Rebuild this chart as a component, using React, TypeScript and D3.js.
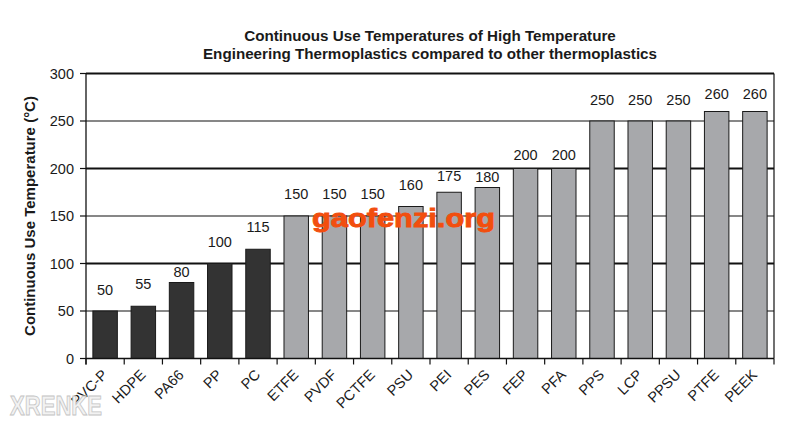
import React from "react";
import * as d3 from "d3";

const categories = ["PVC-P","HDPE","PA66","PP","PC","ETFE","PVDF","PCTFE","PSU","PEI","PES","FEP","PFA","PPS","LCP","PPSU","PTFE","PEEK"];
const values = [50,55,80,100,115,150,150,150,160,175,180,200,200,250,250,250,260,260];
const groups = ["other","other","other","other","other","high","high","high","high","high","high","high","high","high","high","high","high","high"];
const yTicks = [0,50,100,150,200,250,300];
const titleLines = ["Continuous Use Temperatures of High Temperature","Engineering Thermoplastics compared to other thermoplastics"];
const yLabel = "Continuous Use Temperature (°C)";

// layout: vertical gap (px) between each value label baseline and its bar top, as in the original
const labelGaps = [16,17,6,17,17,17,17,17,17,11,6,9,9,16,16,16,13,13];

const W = 795, H = 424;
const L = 86, R = 774, T = 73.5, B = 358.5;

export default function App() {
  const x = d3.scaleBand<string>().domain(categories).range([L, R]).paddingInner(0.36).paddingOuter(0.18);
  const y = d3.scaleLinear().domain([0, 300]).range([B, T]);
  const font = "Arial, 'Liberation Sans', Helvetica, sans-serif";
  const boundaries = d3.range(categories.length + 1).map(i => L + i * (R - L) / categories.length);
  return (
    <svg width={W} height={H} style={{ position: "absolute", left: 0, top: 0, background: "#fff" }} fontFamily={font}>
      <rect x={0} y={0} width={W} height={H} fill="#fff" />
      {titleLines.map((t, i) => (
        <text key={i} x={430} y={41 + i * 17.5} textAnchor="middle" fontSize={15.2} fontWeight="bold" fill="#1a1a1a">{t}</text>
      ))}
      {yTicks.filter(v => v > 0).map(v => (
        <line key={v} x1={L} x2={R} y1={y(v)} y2={y(v)} stroke="#111" strokeWidth={v === 100 || v === 200 || v === 300 ? 1.8 : 1.1} />
      ))}
      <line x1={R} x2={R} y1={T} y2={B} stroke="#111" strokeWidth={1.2} />
      {categories.map((c, i) => (
        <rect key={c} x={x(c)} y={y(values[i])} width={x.bandwidth()} height={B - y(values[i])}
          fill={groups[i] === "other" ? "#333333" : "#a7a8ab"} stroke="#1a1a1a" strokeWidth={1} />
      ))}
      {categories.map((c, i) => (
        <text key={c} x={(x(c) as number) + x.bandwidth() / 2} y={y(values[i]) - labelGaps[i]} textAnchor="middle" fontSize={14.5} fill="#1a1a1a">{values[i]}</text>
      ))}
      <line x1={L} x2={L} y1={T} y2={B + 6} stroke="#111" strokeWidth={1.3} />
      <line x1={L} x2={R} y1={B} y2={B} stroke="#111" strokeWidth={1.3} />
      {yTicks.map(v => (
        <g key={v}>
          <line x1={L - 6} x2={L} y1={y(v)} y2={y(v)} stroke="#111" strokeWidth={1.2} />
          <text x={L - 12} y={y(v) + 5} textAnchor="end" fontSize={14.5} fill="#1a1a1a">{v}</text>
        </g>
      ))}
      {boundaries.map((bx, i) => (
        <line key={i} x1={bx} x2={bx} y1={B} y2={B + 6} stroke="#111" strokeWidth={1.2} />
      ))}
      {categories.map((c) => {
        const cx = (x(c) as number) + x.bandwidth() / 2 - 4;
        const cy = B + 10;
        return (
          <text key={c} transform={`translate(${cx},${cy}) rotate(-45)`} textAnchor="end" dy="0.7em" fontSize={14.5} fill="#1a1a1a">{c}</text>
        );
      })}
      <text transform={`translate(35,${(T + B) / 2}) rotate(-90)`} textAnchor="middle" fontSize={15} fontWeight="bold" fill="#1a1a1a">{yLabel}</text>
      <text x={312} y={226.5} fontSize={26} fontWeight="bold" fill="#f24e0e" stroke="#f24e0e" strokeWidth={0.9} textLength={183} lengthAdjust="spacingAndGlyphs">gaofenzi.org</text>
      <text x={10} y={415} fontSize={27} fontWeight="bold" fill="#f2f2f2" stroke="#c4c4c4" strokeWidth={0.9} textLength={92} lengthAdjust="spacingAndGlyphs">XRENKE</text>
    </svg>
  );
}
